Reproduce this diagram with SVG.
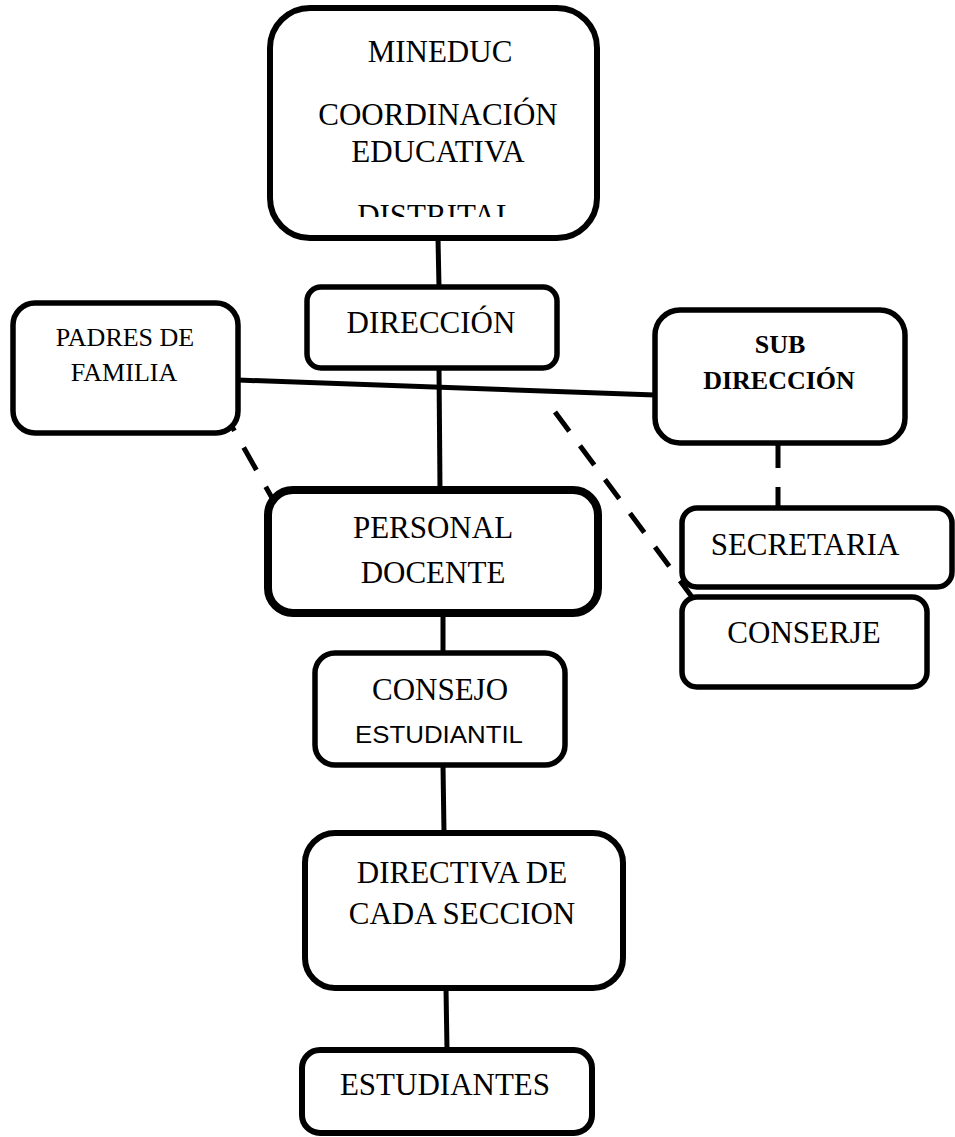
<svg xmlns="http://www.w3.org/2000/svg" width="955" height="1137" viewBox="0 0 955 1137">
<style>
.box{fill:#fff;stroke:#000;stroke-width:5.5}
.t{font-family:"Liberation Serif","Times New Roman",serif;font-size:31px;fill:#000;text-anchor:middle}
.s{font-size:26px}
.b{font-weight:bold}
.sans{font-family:"Liberation Sans",Arial,sans-serif;font-size:24px}
.c{stroke:#000;stroke-width:5;fill:none}
.d{stroke:#000;stroke-width:5;fill:none;stroke-dasharray:24 18}
</style>
<defs>
<clipPath id="clipTop"><rect x="270" y="7" width="328" height="210"/></clipPath>
</defs>
<rect width="955" height="1137" fill="#fff"/>
<g id="connectors">
<line class="c" x1="438" y1="238" x2="439" y2="287"/>
<line class="c" x1="439" y1="368" x2="440" y2="490"/>
<line class="c" x1="238" y1="380" x2="655" y2="395"/>
<line class="d" x1="230" y1="423" x2="276" y2="505" style="stroke-dasharray:26 19;stroke-dashoffset:17"/>
<line class="d" x1="555" y1="412" x2="692" y2="597"/>
<line class="d" x1="778" y1="443" x2="778" y2="508" style="stroke-dasharray:25 19"/>
<line class="c" x1="443" y1="613" x2="443" y2="653"/>
<line class="c" x1="443" y1="765" x2="444" y2="833"/>
<line class="c" x1="446" y1="988" x2="447" y2="1050"/>
</g>
<g id="mineduc">
<rect class="box" x="270" y="8" width="327" height="230" rx="40" style="stroke-width:6"/>
<g clip-path="url(#clipTop)">
<text class="t" x="440" y="62">MINEDUC</text>
<text class="t" x="438" y="125">COORDINACIÓN</text>
<text class="t" x="438" y="162">EDUCATIVA</text>
<text class="t" x="436" y="226">DISTRITAL</text>
</g>
</g>
<g id="direccion">
<rect class="box" x="307" y="287" width="250" height="81" rx="14"/>
<text class="t" x="431" y="333">DIRECCIÓN</text>
</g>
<g id="padres">
<rect class="box" x="13" y="303" width="225" height="130" rx="22"/>
<text class="t s" x="125" y="346">PADRES DE</text>
<text class="t s" x="124" y="381">FAMILIA</text>
</g>
<g id="subdireccion">
<rect class="box" x="655" y="310" width="250" height="133" rx="25"/>
<text class="t s b" x="780" y="353">SUB</text>
<text class="t s b" x="779" y="389">DIRECCIÓN</text>
</g>
<g id="personal">
<rect class="box" x="268" y="490" width="330" height="123" rx="25" style="stroke-width:8"/>
<text class="t" x="433" y="538">PERSONAL</text>
<text class="t" x="433" y="583">DOCENTE</text>
</g>
<g id="secretaria">
<rect class="box" x="682" y="508" width="270" height="79" rx="15"/>
<text class="t" x="805" y="555">SECRETARIA</text>
</g>
<g id="conserje">
<rect class="box" x="682" y="597" width="245" height="90" rx="15"/>
<text class="t" x="804" y="643">CONSERJE</text>
</g>
<g id="consejo">
<rect class="box" x="315" y="653" width="250" height="112" rx="20"/>
<text class="t" x="440" y="700">CONSEJO</text>
<text class="t sans" x="439" y="743" textLength="168" lengthAdjust="spacingAndGlyphs">ESTUDIANTIL</text>
</g>
<g id="directiva">
<rect class="box" x="305" y="833" width="318" height="155" rx="30" style="stroke-width:6"/>
<text class="t" x="462" y="883">DIRECTIVA DE</text>
<text class="t" x="462" y="924">CADA SECCION</text>
</g>
<g id="estudiantes">
<rect class="box" x="302" y="1050" width="290" height="83" rx="18" style="stroke-width:6"/>
<text class="t" x="445" y="1095">ESTUDIANTES</text>
</g>
</svg>
